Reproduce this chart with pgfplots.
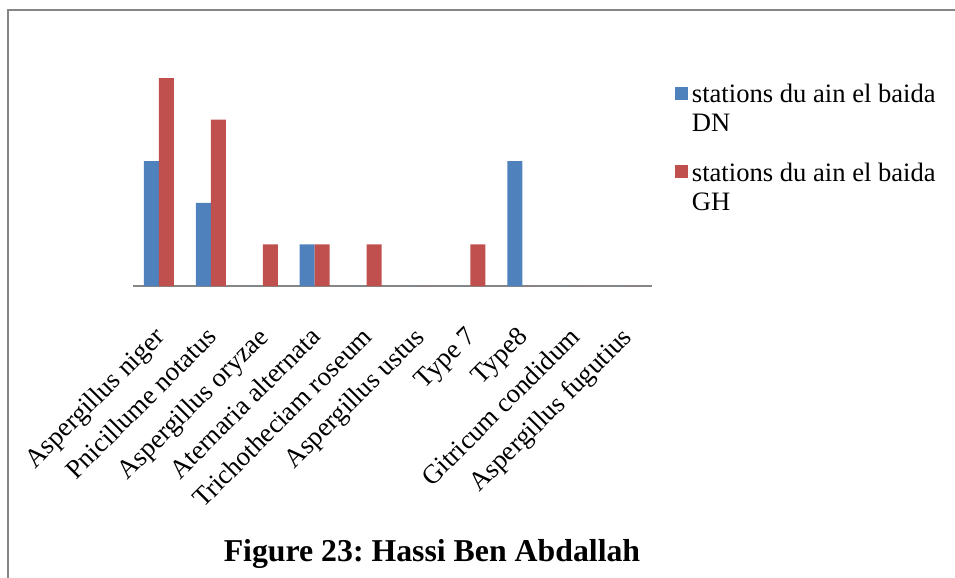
\documentclass[border=0pt]{standalone}
\usepackage{pgfplots}
\pgfplotsset{compat=1.18}
\usepackage{fontspec}
\setmainfont{Liberation Serif}
\frenchspacing
\definecolor{sblue}{RGB}{79,129,189}
\definecolor{sred}{RGB}{192,80,77}
\definecolor{framegray}{RGB}{134,134,134}
\definecolor{axgray}{RGB}{134,134,134}
\begin{document}
\begin{tikzpicture}
\useasboundingbox (0,0) rectangle (477.5pt,-289pt);
\draw[framegray, line width=1.1pt] (4pt,-5pt) rectangle (490pt,-320pt);
\begin{axis}[
  at={(66.5pt,-143pt)}, anchor=south west,
  scale only axis, width=259.5pt, height=104pt,
  xmin=-0.5, xmax=9.5, ymin=0, ymax=5,
  axis x line*=bottom, axis y line=none,
  x axis line style={axgray, line width=1pt, -},
  xtick=data, major tick length=0pt,
  xticklabels={Aspergillus niger, Pnicillume notatus, Aspergillus oryzae, Aternaria alternata, Trichotheciam roseum, Aspergillus ustus, Type 7, Type8, Gitricum condidum, Aspergillus fugutius},
  xticklabel style={rotate=45, anchor=north east, font=\fontsize{13.4}{15}\selectfont, inner sep=0pt, xshift=-15.9pt, yshift=-11.6pt},
  ybar=0pt, bar width=7.5pt,
  clip=false,
  legend cell align=left,
  legend style={at={(1.0434,0.99)}, anchor=north west, draw=none, fill=none,
    font=\fontsize{13.3}{14.5}\selectfont, row sep=24.5pt, inner sep=0pt},
  legend image code/.code={\fill[#1] (-3pt,-2.2pt) rectangle (3.5pt,4.3pt);},
]
\addplot[fill=sblue, draw=none] coordinates {(0,3) (1,2) (2,0) (3,1) (4,0) (5,0) (6,0) (7,3) (8,0) (9,0)};
\addplot[fill=sred, draw=none] coordinates {(0,5) (1,4) (2,1) (3,1) (4,1) (5,0) (6,1) (7,0) (8,0) (9,0)};
\legend{\parbox[t]{125pt}{stations du ain el baida\\DN}, \parbox[t]{125pt}{stations du ain el baida\\GH}}
\end{axis}
\node[anchor=base, font=\fontsize{15.9}{18}\selectfont\bfseries] at (216pt,-280.5pt) {Figure 23: Hassi Ben Abdallah};
\end{tikzpicture}
\end{document}
